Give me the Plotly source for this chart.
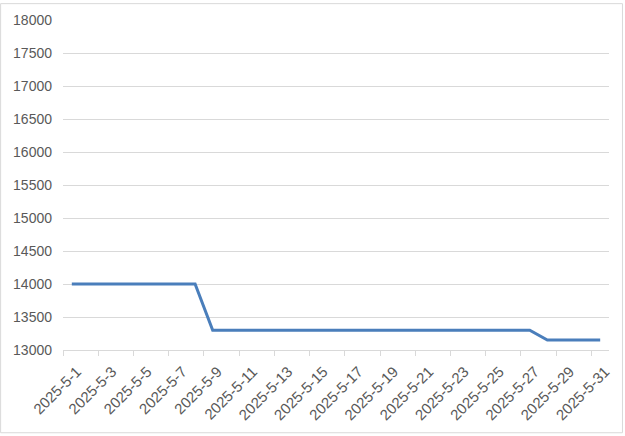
import plotly.graph_objects as go

dates = [
    "2025-5-1", "2025-5-2", "2025-5-3", "2025-5-4", "2025-5-5", "2025-5-6",
    "2025-5-7", "2025-5-8", "2025-5-9", "2025-5-10", "2025-5-11", "2025-5-12",
    "2025-5-13", "2025-5-14", "2025-5-15", "2025-5-16", "2025-5-17", "2025-5-18",
    "2025-5-19", "2025-5-20", "2025-5-21", "2025-5-22", "2025-5-23", "2025-5-24",
    "2025-5-25", "2025-5-26", "2025-5-27", "2025-5-28", "2025-5-29", "2025-5-30",
    "2025-5-31",
]
prices = [
    14000, 14000, 14000, 14000, 14000, 14000, 14000, 14000,
    13300, 13300, 13300, 13300, 13300, 13300, 13300, 13300, 13300, 13300,
    13300, 13300, 13300, 13300, 13300, 13300, 13300, 13300, 13300,
    13150, 13150, 13150, 13150,
]
y_ticks = [13000, 13500, 14000, 14500, 15000, 15500, 16000, 16500, 17000, 17500, 18000]

W, H = 625, 436
L, R, T, B = 63, 15, 17, 86
pw, ph = W - L - R, H - T - B

fig = go.Figure(
    go.Scatter(
        x=dates, y=prices, mode="lines",
        line=dict(color="#4a7ebb", width=3),
        hoverinfo="x+y",
    )
)

font = dict(family="Liberation Sans, Arial, sans-serif", size=14, color="#595959")
xfont = dict(family="Liberation Sans, Arial, sans-serif", size=15, color="#595959")

fig.update_layout(
    width=W, height=H,
    margin=dict(l=L, r=R, t=T, b=B),
    paper_bgcolor="white", plot_bgcolor="white",
    showlegend=False,
    font=font,
    xaxis=dict(
        type="category",
        tickangle=-45,
        dtick=2,
        tickson="boundaries",
        ticks="outside", ticklen=5, tickcolor="#d9d9d9", tickwidth=1,
        showline=True, linecolor="#d9d9d9", linewidth=1,
        showgrid=False,
        range=[-0.5, len(dates) - 0.5],
        tickfont=xfont,
        ticklabelstandoff=6,
        ticklabelshift=5,
    ),
    yaxis=dict(
        range=[13000, 18000],
        tickvals=y_ticks,
        ticktext=[str(v) for v in y_ticks],
        showgrid=True, gridcolor="#d9d9d9", gridwidth=1,
        zeroline=False, showline=False, ticks="",
        ticklabelstandoff=10,
        tickfont=font,
    ),
    shapes=[
        # thin frame around the whole chart area
        dict(
            type="rect", xref="paper", yref="paper",
            x0=(0.5 - L) / pw, x1=(623.5 - L) / pw,
            y0=(H - B - 433.5) / ph, y1=(H - B - 0.5) / ph,
            line=dict(color="#d9d9d9", width=1), fillcolor="rgba(0,0,0,0)",
            layer="below",
        )
    ],
)

fig.write_html("out.html")
